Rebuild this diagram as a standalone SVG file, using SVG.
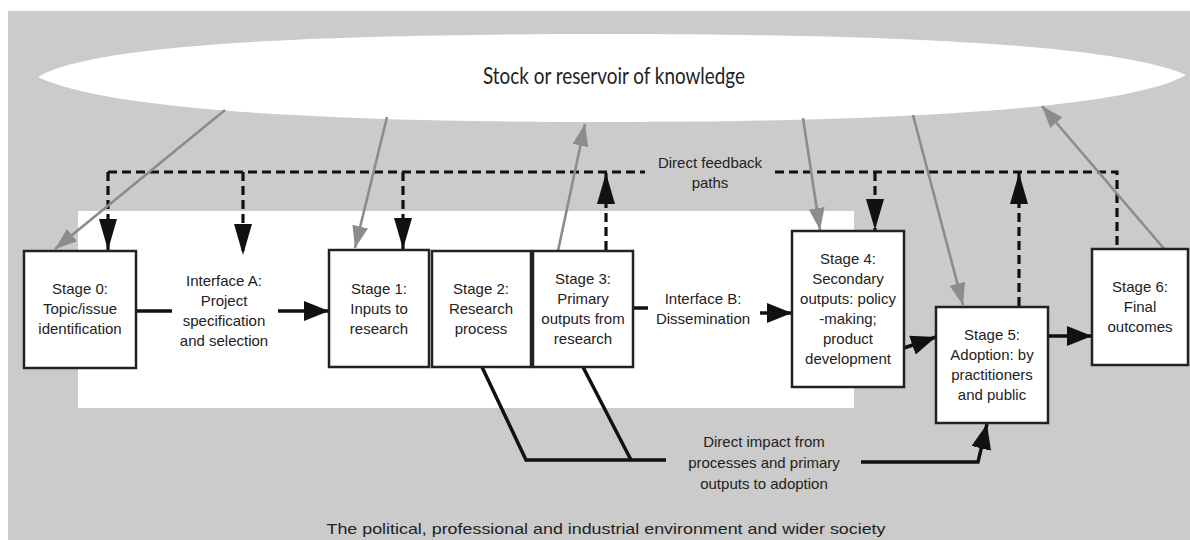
<svg xmlns="http://www.w3.org/2000/svg" width="1190" height="540" viewBox="0 0 1190 540">
<defs>
<style>
.t{font-family:"Liberation Sans",Arial,sans-serif;font-size:15px;fill:#222;text-anchor:middle}
.box{fill:#fff;stroke:#222;stroke-width:2.5}
.dash{fill:none;stroke:#111;stroke-width:3.2;stroke-dasharray:9 5}
.solid{fill:none;stroke:#111;stroke-width:3.5}
.gray{fill:none;stroke:#8c8c8c;stroke-width:2.6}
</style>
<marker id="ad" markerUnits="userSpaceOnUse" markerWidth="32" markerHeight="18" refX="31" refY="9" orient="auto"><path d="M0,0 L31,9 L0,18 Z" fill="#111"/></marker>
<marker id="as" markerUnits="userSpaceOnUse" markerWidth="26" markerHeight="20" refX="25" refY="10" orient="auto"><path d="M0,0 L25,10 L0,20 Z" fill="#111"/></marker>
<marker id="ag" markerUnits="userSpaceOnUse" markerWidth="23" markerHeight="16" refX="22" refY="8" orient="auto"><path d="M0,0 L22,8 L0,16 Z" fill="#8c8c8c"/></marker>
</defs>
<rect x="0" y="0" width="1190" height="540" fill="#fff"/>
<rect x="8" y="11" width="1182" height="529" fill="#cbcbcb"/>
<g id="reservoir">
<path d="M38,77 C90,45 300,34 612,34 C900,34 1120,45 1186,75 C1130,108 900,122 612,122 C350,122 110,112 38,77 Z" fill="#fff"/>
<text x="614" y="84" font-family="Lato,'Liberation Sans',sans-serif" font-size="24" fill="#222" text-anchor="middle" textLength="262" lengthAdjust="spacingAndGlyphs">Stock or reservoir of knowledge</text>
</g>
<rect id="research-area" x="78" y="211" width="776" height="197" fill="#fff"/>
<g id="connectors">
<path class="dash" d="M108,172 L645,172"/>
<path class="dash" d="M775,172 L1117,172 L1117,249"/>
<path class="dash" d="M108,172 L108,250" marker-end="url(#ad)"/>
<path class="dash" d="M243,172 L243,255" marker-end="url(#ad)"/>
<path class="dash" d="M403,172 L403,249" marker-end="url(#ad)"/>
<path class="dash" d="M606,250 L606,173" marker-end="url(#ad)"/>
<path class="dash" d="M875,172 L875,230" marker-end="url(#ad)"/>
<path class="dash" d="M1019,306 L1019,173" marker-end="url(#ad)"/>
<path class="gray" d="M225,110 L55,249" marker-end="url(#ag)"/>
<path class="gray" d="M387,117 L355,248" marker-end="url(#ag)"/>
<path class="gray" d="M558,251 L585,124" marker-end="url(#ag)"/>
<path class="gray" d="M803,118 L820,230" marker-end="url(#ag)"/>
<path class="gray" d="M913,115 L963,305" marker-end="url(#ag)"/>
<path class="gray" d="M1166,251 L1042,106" marker-end="url(#ag)"/>
<path class="solid" d="M136,311 L172,311"/>
<path class="solid" d="M278,311 L329,311" marker-end="url(#as)"/>
<path class="solid" d="M633,308 L648,308"/>
<path class="solid" d="M760,313 L792,313" marker-end="url(#as)"/>
<path class="solid" d="M904,348 L936,337" marker-end="url(#as)"/>
<path class="solid" d="M1048,336 L1092,336" marker-end="url(#as)"/>
<path class="solid" d="M482,367 L526,460 L666,460"/>
<path class="solid" d="M583,367 L631,460"/>
<path class="solid" d="M861,462 L978,462 L987,424" marker-end="url(#as)"/>
</g>
<g id="stage0"><rect class="box" x="24" y="251" width="112" height="117"/>
<text class="t" x="80" y="294">Stage 0:</text><text class="t" x="80" y="314">Topic/issue</text><text class="t" x="80" y="334">identification</text></g>
<g id="interfaceA"><text class="t" x="224" y="286">Interface A:</text><text class="t" x="224" y="306">Project</text><text class="t" x="224" y="326">specification</text><text class="t" x="224" y="346">and selection</text></g>
<g id="stage1"><rect class="box" x="329" y="250" width="100" height="117"/>
<text class="t" x="379" y="294">Stage 1:</text><text class="t" x="379" y="314">Inputs to</text><text class="t" x="379" y="334">research</text></g>
<g id="stage2"><rect class="box" x="432" y="251" width="99" height="116"/>
<text class="t" x="481" y="294">Stage 2:</text><text class="t" x="481" y="314">Research</text><text class="t" x="481" y="334">process</text></g>
<g id="stage3"><rect class="box" x="533" y="251" width="100" height="116"/>
<text class="t" x="583" y="284">Stage 3:</text><text class="t" x="583" y="304">Primary</text><text class="t" x="583" y="324">outputs from</text><text class="t" x="583" y="344">research</text></g>
<g id="interfaceB"><text class="t" x="703" y="304">Interface B:</text><text class="t" x="703" y="324">Dissemination</text></g>
<g id="stage4"><rect class="box" x="792" y="231" width="112" height="156"/>
<text class="t" x="848" y="264">Stage 4:</text><text class="t" x="848" y="284">Secondary</text><text class="t" x="848" y="304">outputs: policy</text><text class="t" x="848" y="324">-making;</text><text class="t" x="848" y="344">product</text><text class="t" x="848" y="364">development</text></g>
<g id="stage5"><rect class="box" x="936" y="307" width="112" height="116"/>
<text class="t" x="992" y="340">Stage 5:</text><text class="t" x="992" y="360">Adoption: by</text><text class="t" x="992" y="380">practitioners</text><text class="t" x="992" y="400">and public</text></g>
<g id="stage6"><rect class="box" x="1092" y="249" width="96" height="116"/>
<text class="t" x="1140" y="292">Stage 6:</text><text class="t" x="1140" y="312">Final</text><text class="t" x="1140" y="332">outcomes</text></g>
<g id="feedback-label"><text class="t" x="710" y="168">Direct feedback</text><text class="t" x="710" y="188">paths</text></g>
<g id="impact-label"><text class="t" x="764" y="447">Direct impact from</text><text class="t" x="764" y="468">processes and primary</text><text class="t" x="764" y="489">outputs to adoption</text></g>
<text class="t" x="606" y="534" font-size="16.5" textLength="559" lengthAdjust="spacingAndGlyphs">The political, professional and industrial environment and wider society</text>
</svg>
